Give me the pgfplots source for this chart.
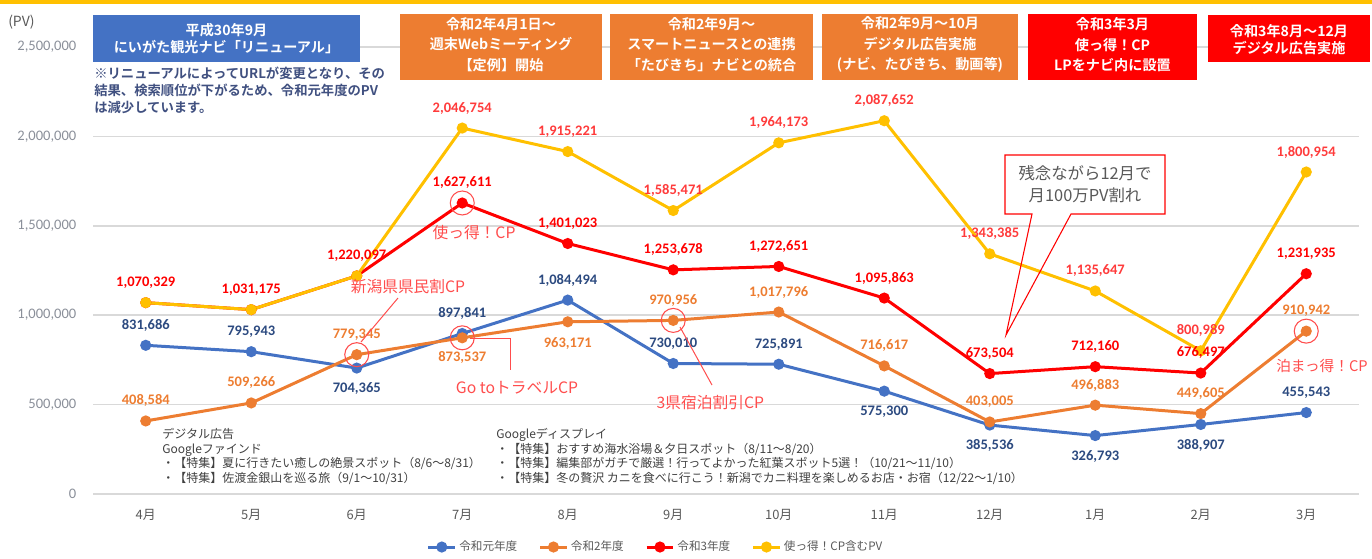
\documentclass[border=0pt]{standalone}
\usepackage{fontspec}
\usepackage{pgfplots}
\usepackage{pgfplotstable}
\pgfplotsset{compat=1.18}
\setmainfont{Noto Sans CJK JP}[BoldFont={Noto Sans CJK JP Bold}]
\newfontfamily\numf{Carlito}
\newcommand\fs[2]{\fontsize{#1}{#2}\selectfont}
\definecolor{cblue}{HTML}{4472C4}
\definecolor{corange}{HTML}{ED7D31}
\definecolor{cred}{HTML}{FF0000}
\definecolor{cyellow}{HTML}{FFC000}
\definecolor{lblue}{RGB}{44,74,128}
\definecolor{lyell}{HTML}{FF3B3B}
\definecolor{annred}{HTML}{FF4D4D}
\definecolor{gridc}{HTML}{D9D9D9}
\definecolor{ticktxt}{HTML}{8A8F99}
\definecolor{txtgray}{HTML}{595959}
\definecolor{darktxt}{HTML}{404040}
\definecolor{notec}{RGB}{64,80,128}

\pgfplotstableread{
x y lab dy
0 831686 831,686 15
1 795943 795,943 15
2 704365 704,365 -15.5
3 897841 897,841 15
4 1084494 1,084,494 15
5 730010 730,010 15
6 725891 725,891 15
7 575300 575,300 -15.5
8 385536 385,536 -15.5
9 326793 326,793 -15.5
10 388907 388,907 -15.5
11 455543 455,543 15
}\tblue

\pgfplotstableread{
x y lab dy
0 408584 408,584 15
1 509266 509,266 15
2 779345 779,345 15
3 873537 873,537 -15
4 963171 963,171 -16
5 970956 970,956 15
6 1017796 1,017,796 15
7 716617 716,617 15
8 403005 403,005 15
9 496883 496,883 15
10 449605 449,605 15
11 910942 910,942 15
}\torange

\pgfplotstableread{
x y lab dy
0 1070329 1,070,329 15
1 1031175 1,031,175 15
2 1220097 1,220,097 15
3 1627611 1,627,611 15
4 1401023 1,401,023 15
5 1253678 1,253,678 15
6 1272651 1,272,651 15
7 1095863 1,095,863 15
8 673504 673,504 15
9 712160 712,160 15
10 676497 676,497 15.5
11 1231935 1,231,935 15
}\tred

\pgfplotstableread{
x y lab dy
0 1070329 {} 15
1 1031175 {} 15
2 1220097 {} 15
3 2046754 2,046,754 15
4 1915221 1,915,221 15
5 1585471 1,585,471 15
6 1964173 1,964,173 15
7 2087652 2,087,652 15
8 1343385 1,343,385 15
9 1135647 1,135,647 15
10 800989 800,989 15.5
11 1800954 1,800,954 15
}\tyellow

\pgfplotsset{
  ser/.style={line width=2.25pt, mark=*, mark size=3pt, mark options={solid}},
  labs/.style={draw=none, mark=none, forget plot, nodes near coords,
     point meta=explicit symbolic,
     visualization depends on={\thisrow{dy} \as \dy},
     every node near coord/.append style={anchor=center, yshift=\dy pt,
        inner sep=0pt, font=\numf\bfseries\fs{10.9}{12}, text=#1}},
}

\begin{document}
\begin{tikzpicture}
\useasboundingbox (0,0) rectangle (1029pt,-418.5pt);
\begin{axis}[
  at={(69.75pt,-370.5pt)}, anchor=south west,
  scale only axis, width=949.5pt, height=335.25pt,
  xmin=-0.5, xmax=11.5, ymin=0, ymax=2500000,
  axis line style={draw=none}, major tick length=0pt,
  ymajorgrids, grid style={gridc, line width=1.1pt},
  xtick={0,...,11},
  xticklabels={4月,5月,6月,7月,8月,9月,10月,11月,12月,1月,2月,3月},
  ytick={0,500000,1000000,1500000,2000000,2500000},
  yticklabels={0,{500,000},{1,000,000},{1,500,000},{2,000,000},{2,500,000}},
  scaled y ticks=false,
  yticklabel style={font=\numf\fs{10.9}{12}, text=ticktxt, xshift=-9pt},
  xticklabel style={font=\fs{9.7}{11}, text=txtgray, yshift=-8pt},
  clip=false,
  legend style={at={(0.4447,-0.1186)}, anchor=center, draw=none, fill=none,
     legend columns=4, font=\fs{8.7}{10}, text=txtgray,
     /tikz/every even column/.append style={column sep=14pt}},
  legend image code/.code={\draw[mark repeat=2,mark phase=2,#1] plot coordinates {(0pt,0pt) (10pt,0pt) (20pt,0pt)};},
]
\addplot[ser, cblue] table[x=x,y=y] {\tblue};
\addlegendentry{令和元年度}
\addplot[ser, corange] table[x=x,y=y] {\torange};
\addlegendentry{令和2年度}
\addplot[ser, cred] table[x=x,y=y] {\tred};
\addlegendentry{令和3年度}
\addplot[ser, cyellow] table[x=x,y=y] {\tyellow};
\addlegendentry{使っ得！CP含むPV}
% highlight circles
\addplot[only marks, mark=o, mark size=9pt, annred, mark options={line width=0.8pt}, forget plot]
  coordinates {(2,779345) (3,873537) (5,970956) (11,910942) (3,1627611)};
% data labels
\addplot[labs=lblue] table[x=x,y=y,meta=lab] {\tblue};
\addplot[labs=corange] table[x=x,y=y,meta=lab] {\torange};
\addplot[labs=cred] table[x=x,y=y,meta=lab] {\tred};
\addplot[labs=lyell] table[x=x,y=y,meta=lab] {\tyellow};
\end{axis}

\begin{scope}[x=0.75pt, y=-0.75pt]
% top gold line
\fill[cyellow] (0,0) rectangle (1372,4);
% (PV)
\node[anchor=west, inner sep=0pt, text=txtgray, font=\fs{10.5}{12}] at (8,22) {(PV)};
% boxes
\fill[cblue] (93,15) rectangle (360,62);
\node[text=white, font=\bfseries\fs{10.6}{12.75}, align=center] at (226.5,39) {平成30年9月\\にいがた観光ナビ「リニューアル」};
\fill[corange] (400,14) rectangle (602,80);
\node[text=white, font=\bfseries\fs{10.6}{15.4}, align=center] at (501,44.5) {令和2年4月1日～\\週末Webミーティング\\【定例】開始};
\fill[corange] (610,14) rectangle (813,80);
\node[text=white, font=\bfseries\fs{10.6}{15.4}, align=center] at (711.5,44.5) {令和2年9月～\\スマートニュースとの連携\\「たびきち」ナビとの統合};
\fill[corange] (822,14) rectangle (1018,80);
\node[text=white, font=\bfseries\fs{10.6}{15.4}, align=center] at (920,44.5) {令和2年9月～10月\\デジタル広告実施\\(ナビ、たびきち、動画等)};
\fill[cred] (1028,14) rectangle (1197,80);
\node[text=white, font=\bfseries\fs{10.6}{15.4}, align=center] at (1112.5,45) {令和3年3月\\使っ得！CP\\LPをナビ内に設置};
\fill[cred] (1208,15) rectangle (1370,62);
\node[text=white, font=\bfseries\fs{10.6}{12.75}, align=center] at (1289,39.5) {令和3年8月～12月\\デジタル広告実施};
% note
\node[anchor=north west, inner sep=0pt, text=notec, font=\bfseries\fs{10}{12.75}, align=left] at (94,67)
  {※リニューアルによってURLが変更となり、その\\結果、検索順位が下がるため、令和元年度のPV\\は減少しています。};
% bottom text blocks
\node[anchor=north west, inner sep=0pt, text=darktxt, font=\fs{9}{10.9}, align=left] at (162,428)
  {デジタル広告\\Googleファインド\\・【特集】夏に行きたい癒しの絶景スポット（8/6～8/31）\\・【特集】佐渡金銀山を巡る旅（9/1～10/31）};
\node[anchor=north west, inner sep=0pt, text=darktxt, font=\fs{9}{10.9}, align=left] at (496,428)
  {Googleディスプレイ\\・【特集】おすすめ海水浴場＆夕日スポット（8/11～8/20）\\・【特集】編集部がガチで厳選！行ってよかった紅葉スポット5選！（10/21～11/10）\\・【特集】冬の贅沢 カニを食べに行こう！新潟でカニ料理を楽しめるお店・お宿（12/22～1/10）};
% callout
\fill[white] (1005,155) rectangle (1165,214);
\draw[cred, line width=0.8pt] (1032,214) -- (1005,214) -- (1005,155) -- (1165,155) -- (1165,214) -- (1071,214) -- (1006,335) -- cycle;
\node[text=txtgray, font=\fs{12.3}{16.5}, align=center] at (1085,184) {残念ながら12月で\\月100万PV割れ};
% annotation texts
\node[text=annred, font=\fs{11.8}{13}] at (408,287) {新潟県県民割CP};
\draw[annred, line width=0.75pt] (398,298) -- (361,342);
\node[text=annred, font=\fs{11.8}{13}] at (474,233) {使っ得！CP};
\node[text=annred, font=\fs{11.8}{13}] at (517,388) {Go toトラベルCP};
\draw[annred, line width=0.75pt] (470,338) -- (510,338) -- (510,370);
\node[text=annred, font=\fs{11.8}{13}, anchor=west] at (652,403) {3県宿泊割引CP};
\draw[annred, line width=0.75pt] (680,327) -- (712,385);
\node[text=annred, font=\fs{11}{13}, anchor=west, inner sep=0pt] at (1276,366) {泊まっ得！CP};
\end{scope}
\end{tikzpicture}
\end{document}
